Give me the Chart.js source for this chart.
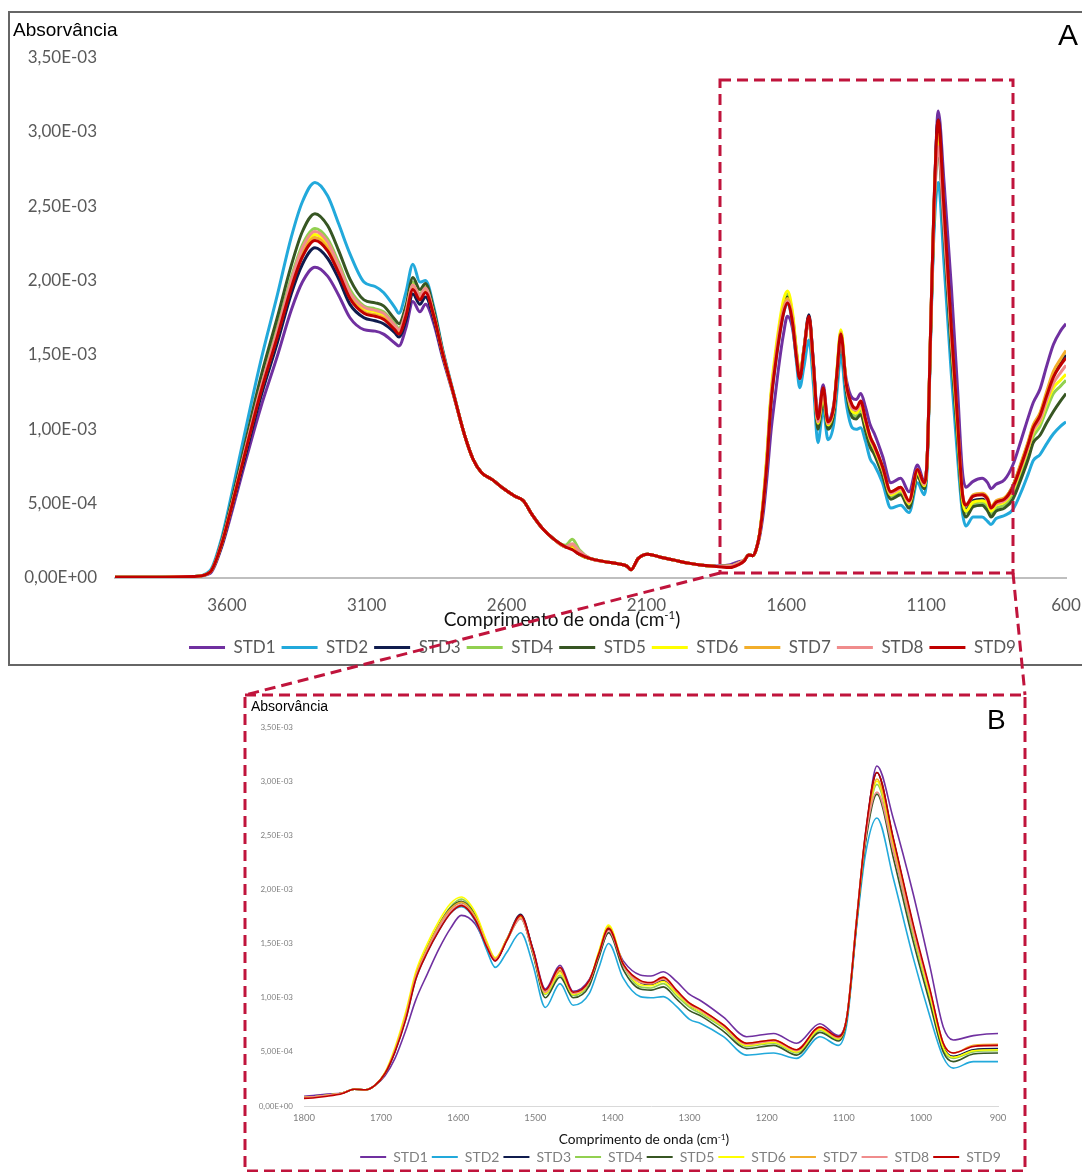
<!DOCTYPE html>
<html>
<head>
<meta charset="utf-8">
<script src="https://cdn.jsdelivr.net/npm/chart.js@4.4.1/dist/chart.umd.min.js"></script>
<style>
  html, body { margin: 0; padding: 0; background: #fff; }
  body { width: 1082px; height: 1172px; overflow: hidden; position: relative; font-family: Lato, sans-serif; }
  #frameA { position: absolute; left: 8px; top: 11px; width: 1200px; height: 655px; border: 2px solid #666; box-sizing: border-box; }
  canvas { position: absolute; }
  #chartA { left: 9px; top: 12px; }
  #chartB { left: 248px; top: 697px; }
  .panel { position: absolute; font-family: "Liberation Sans", Arial, sans-serif; line-height: 1; color: #000; }
  .axisTitle { position: absolute; transform: translate(-50%, -50%); white-space: nowrap; line-height: 1; color: #111; font-family: Lato, sans-serif; }
  .axisTitle sup { font-size: 0.6em; vertical-align: 0.55em; line-height: 0; }
  #overlay { position: absolute; left: 0; top: 0; pointer-events: none; }
</style>
</head>
<body>
<div id="frameA"></div>
<canvas id="chartA" width="1183" height="654"></canvas>
<canvas id="chartB" width="862" height="477"></canvas>
<div class="panel" style="left:1058px; top:20px; font-size:30px;">A</div>
<div class="panel" style="left:987px; top:706px; font-size:28px;">B</div>
<div class="axisTitle" style="left:562px; top:618px; font-size:19px;">Comprimento de onda (cm<sup>-1</sup>)</div>
<div class="axisTitle" style="left:644px; top:1139px; font-size:13.7px;">Comprimento de onda (cm<sup>-1</sup>)</div>
<svg id="overlay" width="1082" height="1172">
  <g fill="none" stroke="#C0143C" stroke-width="3" stroke-dasharray="11 6">
    <path d="M720,80 H1013 V573 H720 Z"/>
    <path d="M720,573 L245,695"/>
    <path d="M1013,573 L1025,695"/>
    <rect x="245" y="695" width="780" height="476"/>
  </g>
</svg>
<script>
// Wavenumber grid (cm-1), shared by both panels
const wavenumbers = [4000,3850,3720,3660,
  3620,3580,3540,3480,3420,3370,3330,3285,3240,3200,3160,3110,3070,3040,3000,2985,2960,2935,2910,2890,2860,2830,
  2790,2750,2720,2690,2650,2610,2570,2540,2510,2470,2430,2390,2365,2340,2300,2250,2200,2170,2155,2130,2095,2050,2000,1950,1900,1850,
  1800,1770,1750,1735,1720,1708,1695,1682,1668,1655,1640,1625,1610,1596,1578,1563,1552,1537,1519,1503,1487,1468,1451,1430,1418,1405,1386,1364,1350,1334,1317,1300,1285,1256,1226,1191,1161,1131,1107,1096,1083,1072,1057,1036,1010,988,971,958,932,900,
  880,868,850,820,790,760,735,717,693,670,645,620,600];

// Absorbance values, in units of 1E-03
const STD1 = [0.005,0.005,0.01,0.03,
  0.20,0.46,0.74,1.14,1.49,1.80,1.99,2.09,2.03,1.90,1.75,1.67,1.66,1.64,1.58,1.56,1.68,1.86,1.79,1.84,1.71,1.49,
  1.23,0.96,0.80,0.71,0.66,0.60,0.55,0.52,0.43,0.33,0.26,0.21,0.20,0.16,0.13,0.11,0.095,0.08,0.055,0.13,0.16,0.14,0.12,0.10,0.085,0.08,
  0.09,0.11,0.12,0.155,0.15,0.19,0.28,0.44,0.70,0.98,1.22,1.45,1.64,1.76,1.68,1.47,1.34,1.53,1.75,1.45,1.08,1.30,1.06,1.17,1.38,1.60,1.34,1.21,1.20,1.24,1.15,1.03,0.97,0.82,0.64,0.67,0.58,0.76,0.65,0.82,1.70,2.45,3.14,2.66,1.96,1.28,0.73,0.61,0.65,0.67,
  0.64,0.60,0.63,0.66,0.76,0.93,1.08,1.18,1.27,1.42,1.57,1.66,1.71];
const STD2 = [0.005,0.005,0.01,0.05,
  0.26,0.59,0.94,1.45,1.90,2.29,2.53,2.66,2.57,2.38,2.18,1.99,1.96,1.92,1.82,1.78,1.92,2.11,1.99,2.00,1.82,1.55,
  1.25,0.96,0.80,0.71,0.66,0.60,0.55,0.52,0.43,0.33,0.26,0.21,0.20,0.16,0.13,0.11,0.095,0.08,0.055,0.13,0.16,0.14,0.12,0.10,0.085,0.078,
  0.08,0.10,0.12,0.155,0.15,0.19,0.30,0.50,0.80,1.17,1.42,1.62,1.78,1.84,1.71,1.44,1.28,1.42,1.60,1.30,0.91,1.13,0.93,1.04,1.27,1.50,1.18,1.01,1.00,1.01,0.92,0.80,0.76,0.64,0.47,0.49,0.44,0.64,0.56,0.76,1.68,2.32,2.66,2.11,1.37,0.82,0.45,0.35,0.41,0.41,
  0.38,0.36,0.40,0.42,0.46,0.58,0.70,0.79,0.83,0.90,0.97,1.02,1.05];
const STD3 = [0.005,0.005,0.01,0.04,
  0.21,0.49,0.78,1.21,1.58,1.91,2.11,2.22,2.15,2.01,1.84,1.75,1.73,1.71,1.65,1.62,1.73,1.91,1.84,1.89,1.74,1.51,
  1.24,0.96,0.80,0.71,0.66,0.60,0.55,0.52,0.43,0.33,0.26,0.21,0.20,0.16,0.13,0.11,0.095,0.08,0.055,0.13,0.16,0.14,0.12,0.10,0.085,0.078,
  0.08,0.10,0.12,0.155,0.15,0.19,0.30,0.51,0.82,1.19,1.45,1.66,1.82,1.88,1.75,1.49,1.35,1.54,1.77,1.44,1.05,1.25,1.03,1.14,1.39,1.63,1.30,1.14,1.12,1.16,1.05,0.93,0.87,0.73,0.56,0.59,0.50,0.71,0.62,0.82,1.74,2.50,3.08,2.47,1.66,1.04,0.55,0.46,0.52,0.53,
  0.51,0.46,0.50,0.53,0.62,0.77,0.91,1.02,1.10,1.23,1.37,1.45,1.50];
const STD4 = [0.005,0.005,0.01,0.04,
  0.23,0.52,0.83,1.28,1.68,2.02,2.24,2.35,2.28,2.12,1.94,1.83,1.81,1.79,1.71,1.68,1.80,1.99,1.91,1.96,1.78,1.53,
  1.24,0.96,0.80,0.71,0.66,0.60,0.55,0.52,0.43,0.33,0.26,0.22,0.26,0.19,0.13,0.11,0.095,0.08,0.055,0.13,0.16,0.14,0.12,0.10,0.085,0.078,
  0.08,0.10,0.12,0.155,0.15,0.19,0.30,0.52,0.84,1.21,1.47,1.68,1.84,1.91,1.77,1.51,1.36,1.53,1.73,1.41,1.03,1.21,1.02,1.14,1.41,1.66,1.30,1.10,1.09,1.13,1.02,0.91,0.85,0.72,0.55,0.58,0.49,0.70,0.61,0.82,1.73,2.46,2.97,2.38,1.58,0.99,0.52,0.44,0.50,0.51,
  0.48,0.43,0.47,0.49,0.57,0.71,0.85,0.95,1.02,1.13,1.24,1.29,1.33];
const STD5 = [0.005,0.005,0.01,0.04,
  0.24,0.54,0.86,1.34,1.75,2.10,2.33,2.45,2.37,2.20,2.01,1.87,1.85,1.83,1.74,1.71,1.83,2.02,1.94,1.98,1.80,1.54,
  1.24,0.96,0.80,0.71,0.66,0.60,0.55,0.52,0.43,0.33,0.26,0.21,0.22,0.16,0.13,0.11,0.095,0.08,0.055,0.13,0.16,0.14,0.12,0.10,0.085,0.078,
  0.08,0.10,0.12,0.155,0.15,0.19,0.30,0.51,0.83,1.20,1.46,1.67,1.83,1.89,1.76,1.50,1.35,1.53,1.74,1.40,1.00,1.19,1.00,1.11,1.36,1.60,1.26,1.08,1.07,1.10,0.99,0.88,0.83,0.69,0.53,0.56,0.47,0.68,0.60,0.80,1.72,2.42,2.88,2.30,1.52,0.94,0.50,0.41,0.48,0.49,
  0.45,0.41,0.45,0.47,0.53,0.67,0.80,0.91,0.96,1.04,1.12,1.19,1.24];
const STD6 = [0.005,0.005,0.01,0.04,
  0.22,0.51,0.81,1.26,1.65,1.98,2.20,2.31,2.24,2.08,1.91,1.81,1.79,1.77,1.69,1.66,1.78,1.97,1.89,1.94,1.77,1.52,
  1.24,0.96,0.80,0.71,0.66,0.60,0.55,0.52,0.43,0.33,0.26,0.21,0.21,0.16,0.13,0.11,0.095,0.08,0.055,0.13,0.16,0.14,0.12,0.10,0.085,0.078,
  0.08,0.10,0.12,0.155,0.15,0.19,0.31,0.54,0.87,1.24,1.50,1.71,1.87,1.93,1.79,1.52,1.37,1.54,1.74,1.42,1.04,1.23,1.03,1.15,1.42,1.67,1.31,1.12,1.11,1.15,1.04,0.93,0.87,0.73,0.56,0.59,0.50,0.71,0.62,0.82,1.74,2.48,3.00,2.41,1.61,1.01,0.54,0.45,0.51,0.52,
  0.50,0.45,0.49,0.51,0.59,0.74,0.87,0.98,1.05,1.17,1.28,1.33,1.37];
const STD7 = [0.005,0.005,0.01,0.04,
  0.22,0.50,0.81,1.25,1.63,1.97,2.18,2.29,2.22,2.07,1.89,1.79,1.77,1.75,1.68,1.65,1.77,1.95,1.88,1.93,1.76,1.52,
  1.24,0.96,0.80,0.71,0.66,0.60,0.55,0.52,0.43,0.33,0.26,0.21,0.22,0.17,0.13,0.11,0.095,0.08,0.055,0.13,0.16,0.14,0.12,0.10,0.085,0.078,
  0.08,0.10,0.12,0.155,0.15,0.19,0.30,0.52,0.84,1.21,1.46,1.67,1.82,1.88,1.75,1.50,1.36,1.54,1.75,1.43,1.05,1.25,1.04,1.15,1.40,1.65,1.31,1.15,1.13,1.18,1.06,0.95,0.89,0.75,0.58,0.61,0.52,0.72,0.63,0.82,1.74,2.48,3.02,2.44,1.65,1.06,0.58,0.49,0.56,0.57,
  0.54,0.48,0.52,0.54,0.62,0.78,0.92,1.03,1.11,1.25,1.39,1.47,1.53];
const STD8 = [0.005,0.005,0.01,0.04,
  0.23,0.51,0.82,1.27,1.66,2.00,2.22,2.33,2.26,2.10,1.92,1.82,1.80,1.78,1.70,1.67,1.79,1.97,1.90,1.95,1.77,1.53,
  1.24,0.96,0.80,0.71,0.66,0.60,0.55,0.52,0.43,0.33,0.26,0.21,0.23,0.18,0.13,0.11,0.095,0.08,0.055,0.13,0.16,0.14,0.12,0.10,0.085,0.078,
  0.08,0.10,0.12,0.155,0.15,0.19,0.30,0.51,0.82,1.19,1.44,1.65,1.80,1.86,1.73,1.48,1.35,1.53,1.73,1.42,1.05,1.27,1.04,1.15,1.39,1.62,1.30,1.14,1.13,1.17,1.06,0.94,0.88,0.74,0.57,0.60,0.51,0.73,0.63,0.83,1.76,2.47,2.90,2.36,1.62,1.05,0.58,0.49,0.55,0.56,
  0.52,0.47,0.50,0.52,0.60,0.75,0.88,0.99,1.06,1.19,1.31,1.38,1.43];
const STD9 = [0.005,0.005,0.01,0.04,
  0.22,0.50,0.80,1.24,1.62,1.95,2.16,2.27,2.20,2.05,1.88,1.78,1.76,1.74,1.67,1.64,1.76,1.94,1.87,1.92,1.76,1.52,
  1.24,0.96,0.80,0.71,0.66,0.60,0.55,0.52,0.43,0.33,0.26,0.21,0.19,0.16,0.13,0.11,0.095,0.08,0.055,0.13,0.16,0.14,0.12,0.10,0.085,0.078,
  0.07,0.09,0.115,0.155,0.15,0.19,0.30,0.50,0.80,1.17,1.42,1.62,1.78,1.85,1.72,1.47,1.34,1.53,1.76,1.44,1.07,1.28,1.05,1.16,1.40,1.64,1.31,1.16,1.14,1.19,1.07,0.95,0.89,0.75,0.58,0.61,0.52,0.73,0.64,0.82,1.74,2.51,3.08,2.48,1.68,1.07,0.58,0.49,0.55,0.56,
  0.53,0.47,0.51,0.53,0.61,0.76,0.90,1.01,1.09,1.22,1.35,1.43,1.48];

const UNIT = 1e-3;
const seriesNames = ['STD1','STD2','STD3','STD4','STD5','STD6','STD7','STD8','STD9'];
const seriesValues = [STD1, STD2, STD3, STD4, STD5, STD6, STD7, STD8, STD9];
const seriesColors = ['#7030A0','#22A9DB','#101C4E','#92D050','#375623','#FFFF00','#F2AE2B','#F08C8C','#C00000'];

const yTickValues = [0, 5e-4, 1e-3, 1.5e-3, 2e-3, 2.5e-3, 3e-3, 3.5e-3];
const xTicksFull = [3600, 3100, 2600, 2100, 1600, 1100, 600];
const xTicksZoom = [1800, 1700, 1600, 1500, 1400, 1300, 1200, 1100, 1000, 900];

// "3.5e-3" -> "3,50E-03"
function sciLabel(v) {
  const parts = Number(v).toExponential(2).split('e');
  const sign = parts[1][0] === '-' ? '-' : '+';
  const digits = parts[1].replace(/^[-+]/, '').padStart(2, '0');
  return parts[0].replace('.', ',') + 'E' + sign + digits;
}

function buildDatasets(width) {
  return seriesNames.map((name, i) => ({
    label: name,
    data: wavenumbers.map((w, k) => ({ x: w, y: seriesValues[i][k] * UNIT })),
    borderColor: seriesColors[i],
    backgroundColor: seriesColors[i],
    borderWidth: width,
    pointRadius: 0,
    cubicInterpolationMode: 'monotone',
    order: -i,
    xAxisID: 'x',
    yAxisID: 'y'
  }));
}

function makeChart(id, p) {
  return new Chart(document.getElementById(id), {
    type: 'line',
    data: { datasets: buildDatasets(p.lineWidth) },
    options: {
      responsive: false,
      animation: false,
      devicePixelRatio: 1,
      events: [],
      layout: { padding: { left: p.padLeft, right: 0, top: 0, bottom: 0 } },
      scales: {
        x: {
          type: 'linear', reverse: true, min: p.xMin, max: p.xMax,
          afterBuildTicks: s => { s.ticks = p.xTicks.map(v => ({ value: v })); },
          afterFit: s => { s.height = p.xHeight; },
          grid: { display: false, drawTicks: false },
          border: { display: true, color: p.axisColor, width: p.axisWidth },
          ticks: { font: { family: 'Lato', size: p.xTickSize }, color: p.tickColor, padding: p.xTickPad,
                   maxRotation: 0, autoSkip: false, callback: v => String(v) }
        },
        y: {
          type: 'linear', min: 0, max: 0.0035,
          afterBuildTicks: s => { s.ticks = yTickValues.map(v => ({ value: v })); },
          afterFit: s => { s.width = p.yWidth; },
          grid: { display: false, drawTicks: false },
          border: { display: false },
          ticks: { font: { family: 'Lato', size: p.yTickSize }, color: p.tickColor, padding: p.yTickPad,
                   callback: v => sciLabel(v) }
        },
        yPad: {
          type: 'linear', position: 'right', display: true,
          grid: { display: false, drawTicks: false },
          border: { display: false },
          ticks: { display: false },
          afterFit: s => { s.width = p.rightGap; }
        }
      },
      plugins: {
        tooltip: { enabled: false },
        title: {
          display: true, text: 'Absorvância', align: 'start', color: '#000',
          font: { family: 'Liberation Sans', size: p.titleSize, weight: 'normal' },
          padding: { top: p.titlePadTop, bottom: p.titlePadBottom }
        },
        legend: {
          position: 'bottom',
          labels: {
            font: { family: 'Lato', size: p.legendSize },
            color: p.tickColor,
            boxWidth: p.legendBox,
            boxHeight: p.legendLine,
            padding: p.legendPad,
            sort: (a, b) => a.datasetIndex - b.datasetIndex,
            generateLabels: chart => Chart.defaults.plugins.legend.labels.generateLabels(chart)
              .map(item => Object.assign(item, { fillStyle: item.strokeStyle, lineWidth: 0 }))
          }
        }
      }
    }
  });
}

// Panel A: full spectrum 4000-600 cm-1
makeChart('chartA', {
  lineWidth: 3, padLeft: 4, xMin: 600, xMax: 4000, xTicks: xTicksFull,
  xHeight: 55, yWidth: 102, rightGap: 126,
  axisColor: '#bfbfbf', axisWidth: 2, tickColor: '#595959',
  xTickSize: 17, xTickPad: 17, yTickSize: 17, yTickPad: 18,
  titleSize: 19, titlePadTop: 7.6, titlePadBottom: 15.1,
  legendSize: 17, legendBox: 36, legendLine: 3, legendPad: 6
});

// Panel B: fingerprint region 1800-900 cm-1
makeChart('chartB', {
  lineWidth: 1.6, padLeft: 3, xMin: 900, xMax: 1800, xTicks: xTicksZoom,
  xHeight: 40, yWidth: 53, rightGap: 112,
  axisColor: '#d9d9d9', axisWidth: 1, tickColor: '#7f7f7f',
  xTickSize: 9.5, xTickPad: 6.3, yTickSize: 8, yTickPad: 11,
  titleSize: 14, titlePadTop: 2, titlePadBottom: 11.2,
  legendSize: 14, legendBox: 26, legendLine: 2, legendPad: 4
});
</script>
</body>
</html>
